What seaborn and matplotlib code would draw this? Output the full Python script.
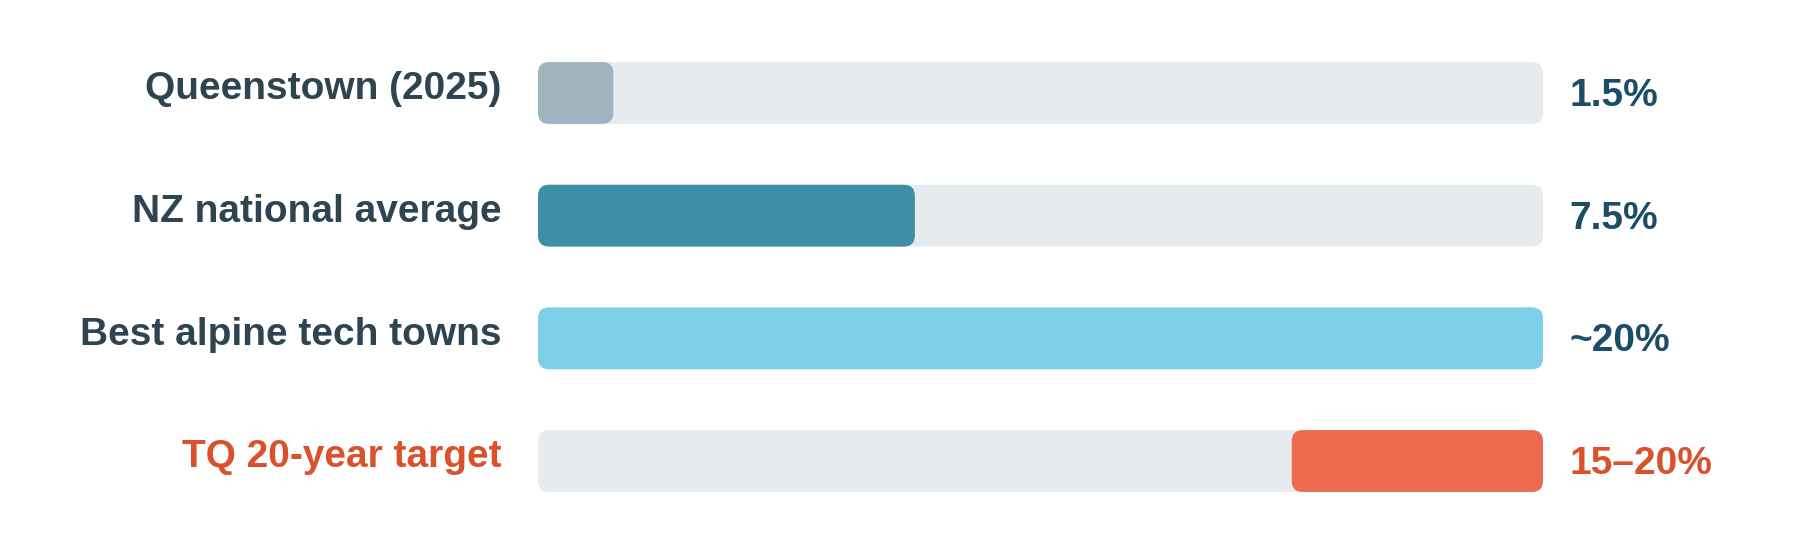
import matplotlib
matplotlib.use("Agg")
import matplotlib.pyplot as plt
import seaborn as sns
from matplotlib.patches import FancyBboxPatch

# data (share of workforce in tech, %)
categories = ["Queenstown (2025)", "NZ national average", "Best alpine tech towns", "TQ 20-year target"]
bar_start = [0, 0, 0, 15]
bar_end = [1.5, 7.5, 20, 20]
value_labels = ["1.5%", "7.5%", "~20%", "15\u201320%"]
scale_max = 20

fill_colors = ["#9fb4bf", "#3d8fa8", "#7ecfe8", "#ec6a4e"]
track_color = "#e6ebee"
label_colors = ["#2e4450", "#2e4450", "#2e4450", "#d9522b"]
value_colors = ["#1b4d66", "#1b4d66", "#1b4d66", "#d9522b"]

sns.set_style("white")
plt.rcParams["font.family"] = ["Liberation Sans", "DejaVu Sans"]

fig = plt.figure(figsize=(17.98, 5.38), dpi=100)
ax = fig.add_axes([538 / 1798, 0, 1005 / 1798, 1])

bar_w = 0.504
sns.barplot(x=[scale_max] * len(categories), y=categories, color=track_color,
            width=bar_w, ax=ax, saturation=1)
sns.barplot(x=bar_end, y=categories, hue=categories, palette=fill_colors,
            width=bar_w, ax=ax, legend=False, saturation=1)

ax.set_xlim(0, scale_max)
ax.set_ylim(3 + (538 - 461) / 122.7, -93 / 122.7)

# swap the square bars for rounded ones
px_x = 1005 / scale_max
px_y = 122.7
radius_px = 11
aspect = px_x / px_y
rects = list(ax.patches)
for k, p in enumerate(rects):
    yc = p.get_y() + p.get_height() / 2
    i = int(round(yc))
    is_track = k < len(categories)
    x0 = 0 if is_track else bar_start[i]
    x1 = p.get_x() + p.get_width()
    fc = p.get_facecolor()
    p.remove()
    ax.add_patch(FancyBboxPatch(
        (x0, p.get_y()), x1 - x0, p.get_height(),
        boxstyle=f"round,pad=0,rounding_size={radius_px / px_x}",
        mutation_aspect=aspect, facecolor=fc, edgecolor="none",
        zorder=1 if is_track else 2))

# category names left of the track, values right of it
for i, (cat, txt) in enumerate(zip(categories, value_labels)):
    ax.annotate(cat, xy=(0, i), xytext=(-26.3, -4.6), textcoords="offset points",
                ha="right", va="baseline", fontsize=28, fontweight="bold",
                color=label_colors[i], annotation_clip=False)
    ax.annotate(txt, xy=(scale_max, i), xytext=(19, -9.4), textcoords="offset points",
                ha="left", va="baseline", fontsize=28, fontweight="bold",
                color=value_colors[i], annotation_clip=False)

ax.set_xlabel("")
ax.set_ylabel("")
ax.set_xticks([])
ax.set_yticks([])
sns.despine(ax=ax, left=True, bottom=True)

fig.savefig("out.png", dpi=100, facecolor="white")
